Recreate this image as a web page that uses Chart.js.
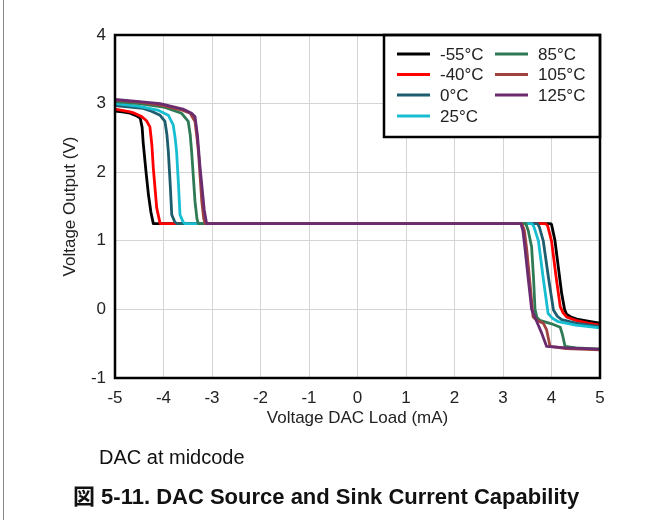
<!DOCTYPE html>
<html>
<head>
<meta charset="utf-8">
<script src="https://cdn.jsdelivr.net/npm/chart.js@4/dist/chart.umd.min.js"></script>
<style>
  body { margin: 0; background: #fff; }
  #wrap { position: relative; width: 662px; height: 520px; overflow: hidden; }
  #leftRule { position: absolute; left: 3px; top: 0; width: 1px; height: 520px; background: #8a8a8a; }
  .note { position: absolute; font-family: "Liberation Sans", Arial, "Noto Sans CJK JP", sans-serif; color: #111; white-space: nowrap; }
  #midcode { left: 99px; top: 445px; font-size: 20px; line-height: 24px; }
  #caption { left: 73px; top: 484px; font-size: 22px; line-height: 26px; font-weight: bold; }
</style>
</head>
<body>
<div id="wrap">
  <div id="leftRule"></div>
  <canvas id="dacChart" width="662" height="520"></canvas>
  <div class="note" id="midcode">DAC at midcode</div>
  <div class="note" id="caption">図 5-11. DAC Source and Sink Current Capability</div>
</div>
<script>
// Dữ liệu: [tải mA, điện áp V]
const tempLabels = ['-55°C', '-40°C', '0°C', '25°C', '85°C', '105°C', '125°C'];
const tempColors = ['#000000', '#ff0000', '#1d5d6e', '#17bdd0', '#2e7a55', '#a0433e', '#6b2c6f'];

const curveM55 = [[-5, 2.89], [-4.85, 2.88], [-4.69, 2.86], [-4.55, 2.82], [-4.48, 2.79], [-4.44, 2.65], [-4.42, 2.44], [-4.36, 2.0], [-4.31, 1.67], [-4.26, 1.42], [-4.21, 1.25],
  [3.98, 1.25], [4.0, 1.24], [4.07, 1.01], [4.14, 0.62], [4.21, 0.23], [4.27, 0.0], [4.31, -0.07], [4.4, -0.11], [4.52, -0.14], [4.75, -0.17], [5.0, -0.2]];
const curveM40 = [[-5, 2.92], [-4.69, 2.88], [-4.6, 2.86], [-4.45, 2.81], [-4.35, 2.75], [-4.28, 2.66], [-4.24, 2.4], [-4.21, 2.06], [-4.14, 1.48], [-4.07, 1.25],
  [3.88, 1.25], [3.92, 1.22], [4.0, 1.0], [4.09, 0.5], [4.18, 0.04], [4.24, -0.05], [4.31, -0.11], [4.5, -0.16], [4.75, -0.2], [5.0, -0.23]];
const curve0 = [[-5, 2.97], [-4.42, 2.93], [-4.25, 2.89], [-4.07, 2.83], [-3.97, 2.74], [-3.93, 2.55], [-3.9, 2.3], [-3.86, 1.8], [-3.83, 1.38], [-3.77, 1.28], [-3.73, 1.25],
  [3.71, 1.25], [3.75, 1.2], [3.83, 1.0], [3.94, 0.45], [4.04, -0.01], [4.12, -0.1], [4.21, -0.15], [4.5, -0.2], [5.0, -0.25]];
const curve25 = [[-5, 3.0], [-4.5, 2.96], [-4.1, 2.9], [-3.9, 2.83], [-3.8, 2.69], [-3.76, 2.5], [-3.73, 2.3], [-3.69, 1.8], [-3.66, 1.38], [-3.6, 1.28], [-3.56, 1.25],
  [3.6, 1.25], [3.64, 1.2], [3.73, 1.0], [3.83, 0.45], [3.93, -0.06], [4.02, -0.13], [4.14, -0.18], [4.5, -0.23], [5.0, -0.27]];
const curve85 = [[-5, 3.03], [-4.5, 3.0], [-4.0, 2.95], [-3.63, 2.86], [-3.49, 2.74], [-3.45, 2.55], [-3.42, 2.3], [-3.35, 1.57], [-3.31, 1.32], [-3.28, 1.25],
  [3.47, 1.25], [3.52, 1.15], [3.59, 0.91], [3.63, 0.45], [3.66, 0.0], [3.7, -0.12], [3.76, -0.16], [4.0, -0.21], [4.18, -0.26], [4.23, -0.38], [4.28, -0.54], [4.5, -0.56], [5.0, -0.58]];
const curve105 = [[-5, 3.05], [-4.5, 3.02], [-4.0, 2.97], [-3.6, 2.9], [-3.45, 2.86], [-3.35, 2.74], [-3.31, 2.5], [-3.28, 2.3], [-3.21, 1.57], [-3.17, 1.32], [-3.14, 1.25],
  [3.39, 1.25], [3.44, 1.15], [3.49, 0.87], [3.56, 0.35], [3.62, -0.11], [3.7, -0.16], [3.83, -0.2], [3.9, -0.3], [3.97, -0.54], [4.3, -0.57], [5.0, -0.59]];
const curve125 = [[-5, 3.06], [-4.5, 3.03], [-4.07, 3.0], [-3.6, 2.92], [-3.42, 2.86], [-3.35, 2.81], [-3.3, 2.54], [-3.25, 2.1], [-3.21, 1.81], [-3.16, 1.45], [-3.11, 1.25],
  [3.37, 1.25], [3.41, 1.15], [3.45, 0.91], [3.52, 0.45], [3.59, 0.0], [3.68, -0.15], [3.8, -0.35], [3.9, -0.54], [4.3, -0.56], [5.0, -0.58]];

const allCurves = [curveM55, curveM40, curve0, curve25, curve85, curve105, curve125];

const xTicks = [-5, -4, -3, -2, -1, 0, 1, 2, 3, 4, 5];
const yTicks = [-1, 0, 1, 2, 3, 4];

const FONT = '"Liberation Sans", Arial, sans-serif';

// Khung viền vùng vẽ + chú thích tự vẽ
const framePlugin = {
    id: 'framePlugin',
    afterDatasetsDraw(chart) {
        const { ctx, chartArea: a } = chart;
        ctx.save();
        // chú thích
        const boxW = 216, boxH = 102;
        const bx = a.right - boxW, by = a.top;
        ctx.fillStyle = '#fff';
        ctx.fillRect(bx, by, boxW, boxH);
        ctx.strokeStyle = '#000';
        ctx.lineWidth = 2.5;
        ctx.strokeRect(bx, by, boxW, boxH);
        ctx.font = '17px ' + FONT;
        ctx.textBaseline = 'middle';
        ctx.fillStyle = '#222';
        const rows = [19, 39.5, 60, 81];
        chart.data.datasets.forEach((ds, i) => {
            const col = i < 4 ? 0 : 1;
            const row = i < 4 ? i : i - 4;
            const lx = bx + (col === 0 ? 13 : 111);
            const ly = by + rows[row];
            ctx.strokeStyle = ds.borderColor;
            ctx.lineWidth = 3;
            ctx.beginPath();
            ctx.moveTo(lx, ly);
            ctx.lineTo(lx + 33, ly);
            ctx.stroke();
            ctx.fillText(ds.label, lx + 43, ly + 1);
        });
        // khung
        ctx.strokeStyle = '#000';
        ctx.lineWidth = 2.5;
        ctx.strokeRect(a.left, a.top, a.right - a.left, a.bottom - a.top);
        ctx.restore();
    }
};

function initDacChart() {
    const ctx = document.getElementById('dacChart').getContext('2d');
    const datasets = allCurves.map((c, i) => ({
        label: tempLabels[i],
        data: c.map(p => ({ x: p[0], y: p[1] })),
        borderColor: tempColors[i],
        backgroundColor: tempColors[i],
        borderWidth: 2.8,
        borderJoinStyle: 'round',
        order: allCurves.length - i, // 125°C vẽ trên cùng
        pointRadius: 0,
        tension: 0,
        fill: false
    }));

    new Chart(ctx, {
        type: 'line',
        data: { datasets: datasets },
        options: {
            responsive: false,
            animation: false,
            layout: { padding: { left: 0, top: 35, right: 62, bottom: 87 } },
            plugins: { legend: { display: false }, tooltip: { enabled: false } },
            scales: {
                x: {
                    type: 'linear',
                    min: xTicks[0],
                    max: xTicks[xTicks.length - 1],
                    afterBuildTicks: s => { s.ticks = xTicks.map(v => ({ value: v })); },
                    afterFit: s => { s.height = 55; },
                    grid: { color: '#d4d4d4', lineWidth: 1, drawTicks: false },
                    border: { display: false },
                    ticks: { color: '#222', font: { family: FONT, size: 17 }, padding: 10, maxRotation: 0 },
                    title: { display: true, text: 'Voltage DAC Load (mA)', color: '#222', font: { family: FONT, size: 17 }, padding: { top: 0, bottom: 4 } }
                },
                y: {
                    type: 'linear',
                    min: yTicks[0],
                    max: yTicks[yTicks.length - 1],
                    afterBuildTicks: s => { s.ticks = yTicks.map(v => ({ value: v })); },
                    afterFit: s => { s.width = 115; },
                    grid: { color: '#d4d4d4', lineWidth: 1, drawTicks: false },
                    border: { display: false },
                    ticks: { color: '#222', font: { family: FONT, size: 17 }, padding: 9 },
                    title: { display: true, text: 'Voltage Output (V)', color: '#222', font: { family: FONT, size: 17 }, padding: { top: 60, bottom: 0 } }
                }
            }
        },
        plugins: [framePlugin]
    });
}

document.addEventListener('DOMContentLoaded', initDacChart);
</script>
</body>
</html>
